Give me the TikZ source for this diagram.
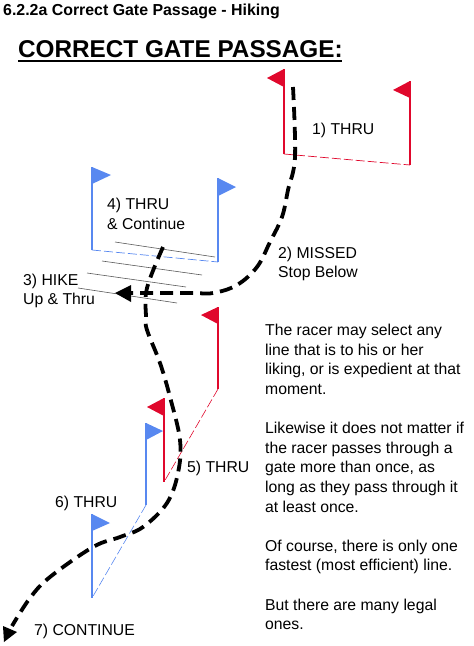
\documentclass[tikz,border=0pt]{standalone}
\usepackage{fontspec}
\setmainfont{Liberation Sans}
\usetikzlibrary{calc}
\definecolor{gred}{RGB}{224,8,44}
\definecolor{gblue}{RGB}{88,136,240}
\tikzset{
 redpole/.style={draw=gred,line width=1.5pt},
 bluepole/.style={draw=gblue,line width=1.5pt},
 redline/.style={draw=gred,line width=.7pt,dash pattern=on 9pt off 3pt},
 blueline/.style={draw=gblue,line width=.7pt,dash pattern=on 9pt off 3pt},
 redflag/.style={fill=gred,draw=none},
 blueflag/.style={fill=gblue,draw=none},
 hatch/.style={draw=black!65,line width=.6pt},
 route/.style={draw=black,line width=3.8pt,dash pattern=on 13pt off 7pt},
 tip/.style={fill=black,draw=none},
 lbl/.style={anchor=west,inner sep=0pt,font=\fontsize{15.75}{19.6}\selectfont,align=left},
}
\begin{document}
\begin{tikzpicture}[x=1pt,y=-1pt]
\useasboundingbox (0,0) rectangle (474,646);
% headings
\node[anchor=west,inner sep=0pt,font=\bfseries\fontsize{15.9}{18}\selectfont] (head) at (3,11) {6.2.2a Correct Gate Passage - Hiking};
\node[anchor=west,inner sep=0pt,font=\bfseries\fontsize{24.3}{28}\selectfont] (title) at (18,49) {CORRECT GATE PASSAGE:};
\draw[line width=2pt] (18,60.5) -- (342,60.5);
% gate 1
\coordinate (a1) at (284,69); \coordinate (a2) at (284,154);
\coordinate (b1) at (410,81); \coordinate (b2) at (410,165);
\fill[redflag] (a1) -- (267,78) -- (284,87) -- cycle;
\fill[redflag] (b1) -- (393,90) -- (410,98) -- cycle;
\draw[redpole] (a1) -- (a2);
\draw[redpole] (b1) -- (b2);
\draw[redline] (a2) -- (b2);
% gate 4
\coordinate (c1) at (92,167); \coordinate (c2) at (92,250);
\coordinate (d1) at (218,178); \coordinate (d2) at (218,262);
\fill[blueflag] (c1) -- (111,175) -- (92,184) -- cycle;
\fill[blueflag] (d1) -- (236,187) -- (218,196) -- cycle;
\draw[bluepole] (c1) -- (c2);
\draw[bluepole] (d1) -- (d2);
\draw[blueline] (c2) -- (d2);
% hatching
\draw[hatch] (115,242) -- (215,257);
\draw[hatch] (102,261) -- (202,275);
\draw[hatch] (87,273) -- (186,287);
\draw[hatch] (78,288) -- (177,303);
% gate 5
\coordinate (e1) at (218,307); \coordinate (e2) at (218,389);
\coordinate (f1) at (164,398); \coordinate (f2) at (164,482);
\fill[redflag] (e1) -- (201,315) -- (218,324) -- cycle;
\fill[redflag] (f1) -- (147,407) -- (164,416) -- cycle;
\draw[redpole] (e1) -- (e2);
\draw[redpole] (f1) -- (f2);
\draw[redline,line width=.6pt] (e2) -- (f2);
% gate 6
\coordinate (g1) at (146,423); \coordinate (g2) at (146,505);
\coordinate (h1) at (92,514); \coordinate (h2) at (92,598);
\fill[blueflag] (g1) -- (163,431) -- (146,440) -- cycle;
\fill[blueflag] (h1) -- (110,523) -- (92,531) -- cycle;
\draw[bluepole] (g1) -- (g2);
\draw[bluepole] (h1) -- (h2);
\draw[blueline,line width=.6pt] (g2) -- (h2);
% routes
\draw[route] plot[smooth,tension=.6] coordinates {(293,87) (295,157) (288,190) (282,217) (270,242) (257,267) (237,285) (213,293) (190,293) (128,293)};
\fill[tip] (115,293) -- (131,285) -- (131,302) -- cycle;
\draw[route] plot[smooth,tension=.6] coordinates {(163,247) (147,288) (146,317) (147,330) (160,363) (170,397) (180,440) (178,473) (167,503) (143,527) (120,537) (93,547) (50,577) (30,598) (12,626)};
\fill[tip] (4,642) -- (3,626) -- (17,632) -- cycle;
% labels
\node[lbl] (l1) at (312,130) {1) THRU};
\node[lbl] (l2) at (278,264) {2) MISSED\\Stop Below};
\node[lbl] (l3) at (23,291) {3) HIKE\\Up \& Thru};
\node[lbl] (l4) at (107,214) {4) THRU\\\& Continue};
\node[lbl] (l5) at (187,468) {5) THRU};
\node[lbl] (l6) at (55,503) {6) THRU};
\node[lbl] (l7) at (34,631) {7) CONTINUE};
\node[lbl,anchor=north west] (para) at (265,324) {The racer may select any\\line that is to his or her\\liking, or is expedient at that\\moment.\\[19.6pt]Likewise it does not matter if\\the racer passes through a\\gate more than once, as\\long as they pass through it\\at least once.\\[19.6pt]Of course, there is only one\\fastest (most efficient) line.\\[19.6pt]But there are many legal\\ones.};
\end{tikzpicture}
\end{document}
